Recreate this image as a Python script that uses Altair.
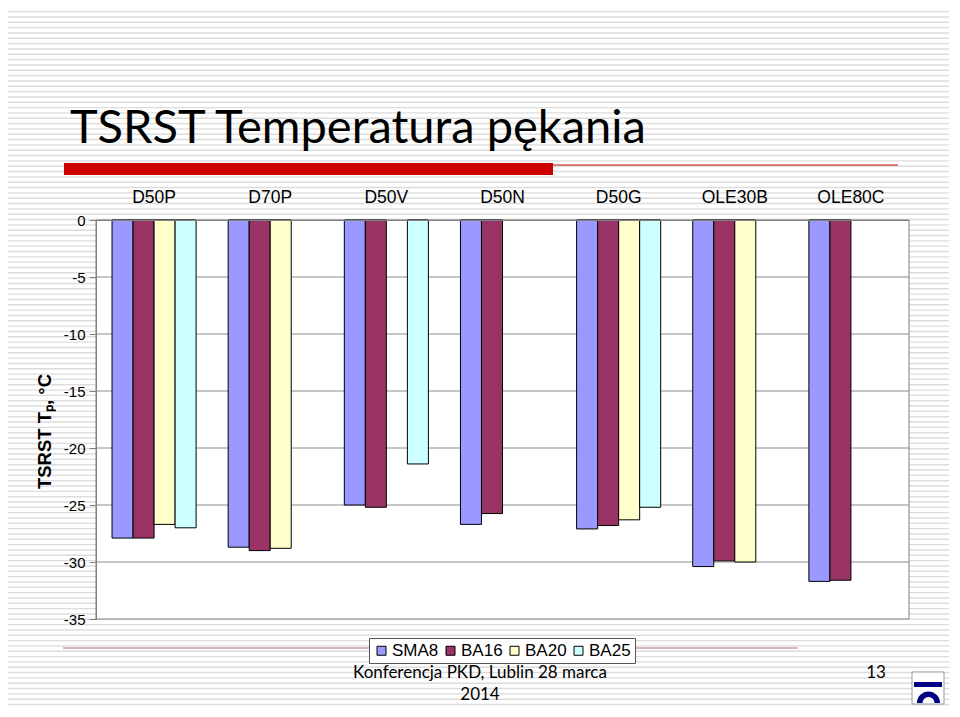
import altair as alt
import pandas as pd

categories = ["D50P", "D70P", "D50V", "D50N", "D50G", "OLE30B", "OLE80C"]
series = ["SMA8", "BA16", "BA20", "BA25"]
colors = ["#9999FF", "#993366", "#FFFFCC", "#CCFFFF"]
sma8 = [-27.9, -28.7, -25.0, -26.7, -27.1, -30.4, -31.7]
ba16 = [-27.9, -29.0, -25.2, -25.75, -26.8, -29.9, -31.6]
ba20 = [-26.7, -28.8, None, None, -26.3, -30.0, None]
ba25 = [-27.0, None, -21.4, None, -25.2, None, None]
y_ticks = [-35, -30, -25, -20, -15, -10, -5, 0]
grid_vals = [-5, -10, -15, -20, -25, -30]

rows = []
for s, vals in zip(series, [sma8, ba16, ba20, ba25]):
    for c, v in zip(categories, vals):
        if v is not None:
            rows.append({"cat": c, "series": s, "value": v})
df = pd.DataFrame(rows)

W, H = 813, 399
one = pd.DataFrame({"k": [0]})
stripes = pd.DataFrame({"k": list(range(0, 134))})
gdf = pd.DataFrame({"v": grid_vals})

stripe_layer = alt.Chart(stripes).mark_rule(color="#DCDCDC", strokeWidth=1.4).encode(
    y=alt.Y("k:Q", scale=alt.Scale(domain=[115.95, 41.09], nice=False, zero=False), axis=None),
    x=alt.value(-96), x2=alt.value(864),
)

plot_bg = alt.Chart(one).mark_rect(fill="white", stroke="#808080", strokeWidth=1).encode(
    x=alt.value(0), x2=alt.value(W), y=alt.value(0), y2=alt.value(H)
)

grid_layer = alt.Chart(gdf).mark_rule(color="#8C8C8C", strokeWidth=1).encode(
    y=alt.Y("v:Q", scale=alt.Scale(domain=[-35, 0], nice=False), axis=None),
    x=alt.value(0), x2=alt.value(W),
)

bars = alt.Chart(df).mark_bar(stroke="black", strokeWidth=1).encode(
    x=alt.X("cat:N", sort=categories,
            scale=alt.Scale(domain=categories, paddingInner=0.276, paddingOuter=0.138),
            axis=alt.Axis(orient="top", title=None, labelAngle=0, labelFont="Liberation Sans",
                          labelFontSize=17.5, labelColor="black", ticks=False, labelPadding=14,
                          domainColor="#808080", grid=False, zindex=1)),
    xOffset=alt.XOffset("series:N", sort=series,
                        scale=alt.Scale(domain=series, paddingInner=0, paddingOuter=0)),
    y=alt.Y("value:Q", scale=alt.Scale(domain=[-35, 0], nice=False),
            axis=alt.Axis(values=y_ticks, grid=False, title="TSRST Tₚ, °C",
                          labelExpr="toString(datum.value)",
                          titleFont="Liberation Sans", titleFontSize=18.5, titleFontWeight="bold",
                          titleColor="black", labelFont="Liberation Sans", labelFontSize=15,
                          labelColor="black", tickColor="#808080", tickSize=7, labelPadding=4,
                          domainColor="#808080", titlePadding=9, titleY=211, zindex=1)),
    color=alt.Color("series:N", sort=series, scale=alt.Scale(domain=series, range=colors),
                    legend=alt.Legend(orient="none", legendX=273, legendY=418, direction="horizontal",
                                      title=None, symbolType="square", symbolSize=81,
                                      symbolStrokeColor="black", symbolStrokeWidth=1,
                                      labelFont="Liberation Sans", labelFontSize=17, labelColor="black",
                                      fillColor="white", strokeColor="#555555", padding=4,
                                      columnPadding=3, labelOffset=2)),
)


def text_layer(txt, x, y, size, font="Lato", align="left", weight="normal", color="black"):
    return alt.Chart(one).mark_text(text=txt, align=align, baseline="alphabetic", font=font,
                                    fontSize=size, color=color, fontWeight=weight).encode(
        x=alt.value(x), y=alt.value(y))


title = text_layer("TSRST Temperatura pękania", -26, -77, 47)
red_bar = alt.Chart(one).mark_rect(color="#CC0000").encode(
    x=alt.value(-32), x2=alt.value(457), y=alt.value(-57), y2=alt.value(-45))
red_line = alt.Chart(one).mark_rule(color="#CC0000", strokeWidth=1).encode(
    x=alt.value(457), x2=alt.value(802), y=alt.value(-55))
foot_line = alt.Chart(one).mark_rule(color="#C8A0A0", strokeWidth=1.5).encode(
    x=alt.value(-33), x2=alt.value(702), y=alt.value(428))
foot1 = text_layer("Konferencja PKD, Lublin 28 marca", 384, 458, 17, align="center")
foot2 = text_layer("2014", 384, 480, 17, align="center")
page = text_layer("13", 780, 458, 17, align="center")
logo_box = alt.Chart(one).mark_rect(fill="white", stroke="#9999AA", strokeWidth=1).encode(
    x=alt.value(816), x2=alt.value(848), y=alt.value(452), y2=alt.value(484))
logo_bar = alt.Chart(one).mark_rect(color="#000080").encode(
    x=alt.value(818), x2=alt.value(846), y=alt.value(462), y2=alt.value(467))
logo_arc = alt.Chart(one).mark_arc(innerRadius=6, outerRadius=11.5, theta=4.712, theta2=7.854,
                                   color="#000080").encode(x=alt.value(832.5), y=alt.value(483))

chart = alt.layer(
    stripe_layer, plot_bg, grid_layer, bars, title, red_bar, red_line, foot_line,
    foot1, foot2, page, logo_box, logo_bar, logo_arc
).resolve_scale(y="independent").properties(
    width=W, height=H,
    padding={"left": 88, "top": 212, "right": 40, "bottom": 88},
    autosize=alt.AutoSizeParams(type="none"),
    background="white",
).configure_view(strokeWidth=0)

chart.save("out.html", embed_options={"renderer": "svg", "actions": False})
